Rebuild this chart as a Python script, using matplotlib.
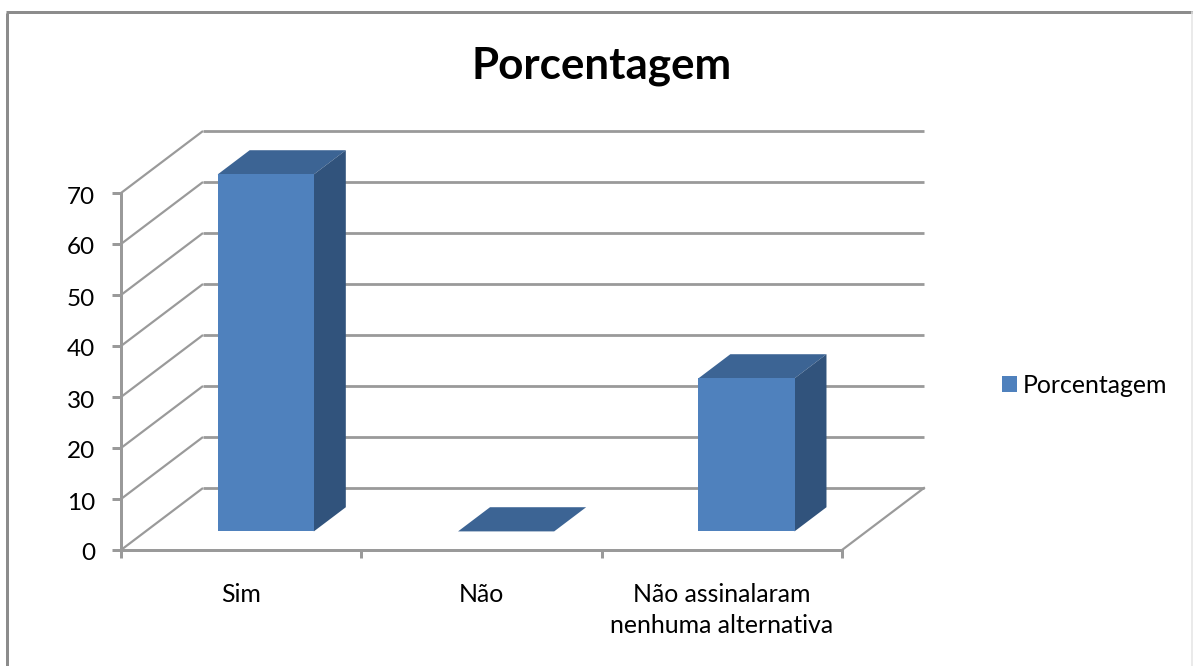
import matplotlib
matplotlib.use("Agg")
import matplotlib.pyplot as plt
from matplotlib.lines import Line2D
from matplotlib.patches import Patch, Polygon
from matplotlib.transforms import ScaledTranslation

categories = ["Sim", "Não", "Não assinalaram\nnenhuma alternativa"]
values = [70, 0, 30]
series_name = "Porcentagem"
y_ticks = [0, 10, 20, 30, 40, 50, 60, 70]

W, H = 1193, 666
plt.rcParams["font.family"] = ["Lato", "DejaVu Sans"]
GRID = "#9A9A9A"
FRONT, TOP, SIDE = "#4F81BD", "#3C6494", "#31537C"
px = 72 / 100  # points per pixel at 100 dpi

fig = plt.figure(figsize=(W / 100, H / 100), dpi=100, facecolor="white")
ax = fig.add_axes([121 / W, 1 - 550 / H, 721 / W, 357 / H])
ax.set_xlim(0, 3)
ax.set_ylim(0, 70)
ax.patch.set_visible(False)

# Oblique projection: how far one full unit of depth shifts a point
DEPTH_X, DEPTH_Y = 82 / 240.33, 62 / 5.1


def proj(x, y, d):
    return (x + d * DEPTH_X, y + d * DEPTH_Y)


# Walls and floor
for v in y_ticks:
    ax.plot(*zip(proj(0, v, 0), proj(0, v, 1)), color=GRID, lw=2.2 * px, clip_on=False, zorder=1,
            solid_capstyle="butt")
    ax.plot(*zip(proj(0, v, 1), proj(3, v, 1)), color=GRID, lw=2.8 * px, clip_on=False, zorder=1,
            solid_capstyle="butt")
ax.plot(*zip(proj(3, 0, 0), proj(3, 0, 1)), color=GRID, lw=2.2 * px, clip_on=False, zorder=1)

# Bars as oblique boxes
BAR_W, D0, D1 = 0.4, 0.30, 0.69
for i, v in enumerate(values):
    x0, x1 = i + 0.5 - BAR_W / 2, i + 0.5 + BAR_W / 2
    top = [proj(x0, v, D0), proj(x1, v, D0), proj(x1, v, D1), proj(x0, v, D1)]
    side = [proj(x1, 0, D0), proj(x1, v, D0), proj(x1, v, D1), proj(x1, 0, D1)]
    front = [proj(x0, 0, D0), proj(x1, 0, D0), proj(x1, v, D0), proj(x0, v, D0)]
    for pts, col in ((top, TOP), (side, SIDE), (front, FRONT)):
        ax.add_patch(Polygon(pts, closed=True, facecolor=col, edgecolor="none", clip_on=False, zorder=3))

# Axes, ticks and labels
for s in ("top", "right"):
    ax.spines[s].set_visible(False)
for s in ("left", "bottom"):
    ax.spines[s].set_color(GRID)
    ax.spines[s].set_linewidth(3 * px)
    ax.spines[s].set_zorder(2)

ax.set_yticks(y_ticks)
ax.tick_params(axis="y", length=9 * px, width=3 * px, color=GRID, labelsize=17.5, pad=12,
               labelcolor="black")
nudge = ScaledTranslation(0, -2 / 100, fig.dpi_scale_trans)
for lbl in ax.get_yticklabels():
    lbl.set_transform(lbl.get_transform() + nudge)

ax.set_xticks([0, 1, 2, 3])
ax.set_xticklabels([])
ax.tick_params(axis="x", which="major", length=8 * px, width=3 * px, color=GRID)
ax.set_xticks([i + 0.5 for i in range(len(categories))], minor=True)
ax.set_xticklabels(categories, minor=True, fontsize=17.9, linespacing=1.4, color="black")
ax.tick_params(axis="x", which="minor", length=0, pad=24)

fig.suptitle(series_name, x=601.5 / W, y=1 - 66 / H, va="center", ha="center",
             fontsize=31.7, fontweight="bold", color="black")

ax.legend(handles=[Patch(facecolor=FRONT, edgecolor="none", label=series_name)],
          loc="center left", bbox_to_anchor=(1002 / W, 1 - 385.5 / H), bbox_transform=fig.transFigure,
          frameon=False, fontsize=17.9, handlelength=0.62, handleheight=0.62, handletextpad=0.23,
          borderpad=0, borderaxespad=0)

# Outer chart frame
frame = [((7.5, 13), (7.5, 666)), ((6, 12), (1193, 12))]
for (a, b) in frame:
    fig.add_artist(Line2D([a[0] / W, b[0] / W], [1 - a[1] / H, 1 - b[1] / H],
                          color="#8C8C8C", lw=3 * px, solid_capstyle="butt"))
fig.add_artist(Line2D([1192 / W, 1192 / W], [0, 1 - 12 / H], color="#E4E4E4", lw=1.5 * px))

fig.savefig("out.png", dpi=100)
